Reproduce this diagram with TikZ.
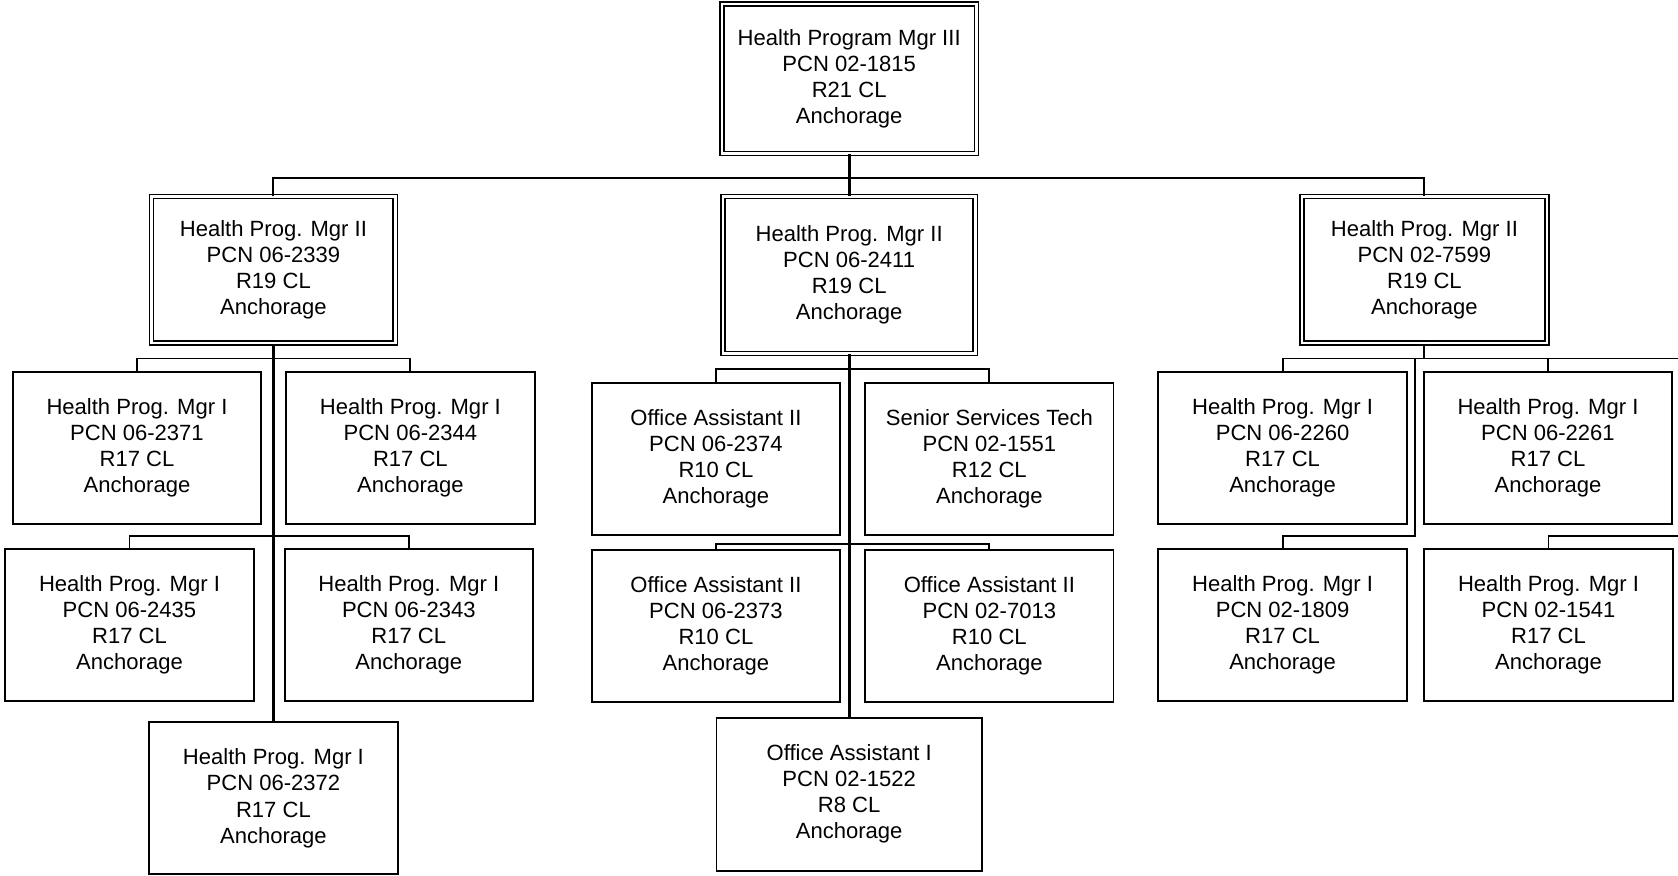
\documentclass[tikz,border=0pt]{standalone}
\usepackage{fontspec}
\setmainfont{Liberation Sans}
\begin{document}
\begin{tikzpicture}[x=0.5pt,y=-0.5pt,
	posbox/.style={draw,line width=0.9pt,minimum width=116pt,minimum height=71pt,inner sep=0pt,align=center,font=\fontsize{10.3}{12.2}\selectfont},
	mgrbox/.style={posbox,double,line width=0.75pt,double distance=1.2pt},
	link/.style={line width=0.9pt},
	spine/.style={line width=1.3pt}]
\useasboundingbox (0,0) rectangle (1568,818);

% managers
\node[mgrbox,minimum width=118.9pt,minimum height=69.9pt] (p1815) at (793.5,73.5) {Health Program Mgr III\\PCN 02-1815\\R21 CL\\Anchorage};
\node[mgrbox,minimum width=113.9pt,minimum height=68.4pt] (p2339) at (255.5,252) {Health Prog. Mgr II\\PCN 06-2339\\R19 CL\\Anchorage};
\node[mgrbox,minimum width=117.9pt,minimum height=73.4pt] (p2411) at (793.5,257) {Health Prog. Mgr II\\PCN 06-2411\\R19 CL\\Anchorage};
\node[mgrbox,minimum width=114.4pt,minimum height=68.4pt] (p7599) at (1331,252) {Health Prog. Mgr II\\PCN 02-7599\\R19 CL\\Anchorage};

% staff
\foreach \n/\pre/\x/\y/\job/\grade in {2371/06/128/418.5/Health Prog. Mgr I/R17, 2344/06/383.5/418.5/Health Prog. Mgr I/R17,
	2435/06/121/584/Health Prog. Mgr I/R17, 2343/06/382/584/Health Prog. Mgr I/R17, 2372/06/255.5/746/Health Prog. Mgr I/R17,
	2374/06/669/428.5/Office Assistant II/R10, 1551/02/924.5/428.5/Senior Services Tech/R12,
	2373/06/669/585/Office Assistant II/R10, 7013/02/924.5/585/Office Assistant II/R10,
	2260/06/1198.5/418.5/Health Prog. Mgr I/R17, 2261/06/1446.5/418.5/Health Prog. Mgr I/R17,
	1809/02/1198.5/584/Health Prog. Mgr I/R17, 1541/02/1447/584/Health Prog. Mgr I/R17}
{
	\node[posbox] (p\n) at (\x,\y) {\job\\PCN \pre-\n\\\grade{} CL\\Anchorage};
}
\node[posbox,minimum width=124pt,minimum height=71.5pt] (p1522) at (793.5,742) {Office Assistant I\\PCN 02-1522\\R8 CL\\Anchorage};

% buses
\coordinate (b0) at (793.5,166);
\coordinate (b1) at (255.5,335);
\coordinate (b2) at (255.5,501);
\coordinate (b3) at (793.5,345);
\coordinate (b4) at (793.5,508);
\coordinate (b5) at (1331,335);
\coordinate (k1) at (1322,335);
\coordinate (k2) at (1322,501);
\coordinate (e1) at (1568,335);
\coordinate (e2) at (1568,501);

\draw[link] (p2339.north) |- (b0) -| (p7599.north);
\draw[spine] (p1815.south) -- (p2411.north);

\draw[spine] (p2339.south) -- (p2372.north);
\draw[link] (p2371.north) |- (b1) -| (p2344.north);
\draw[link] (p2435.north) |- (b2) -| (p2343.north);

\draw[spine] (p2411.south) -- (p1522.north);
\draw[link] (p2374.north) |- (b3) -| (p1551.north);
\draw[link] (p2373.north) |- (b4) -| (p7013.north);

\draw[link] (p7599.south) -- (b5);
\draw[link] (p2260.north) |- (e1);
\draw[link] (p2261.north) -- (p2261.north |- e1);
\draw[link] (k1) -- (k2) -| (p1809.north);
\draw[link] (e2) -| (p1541.north);

\end{tikzpicture}
\end{document}
